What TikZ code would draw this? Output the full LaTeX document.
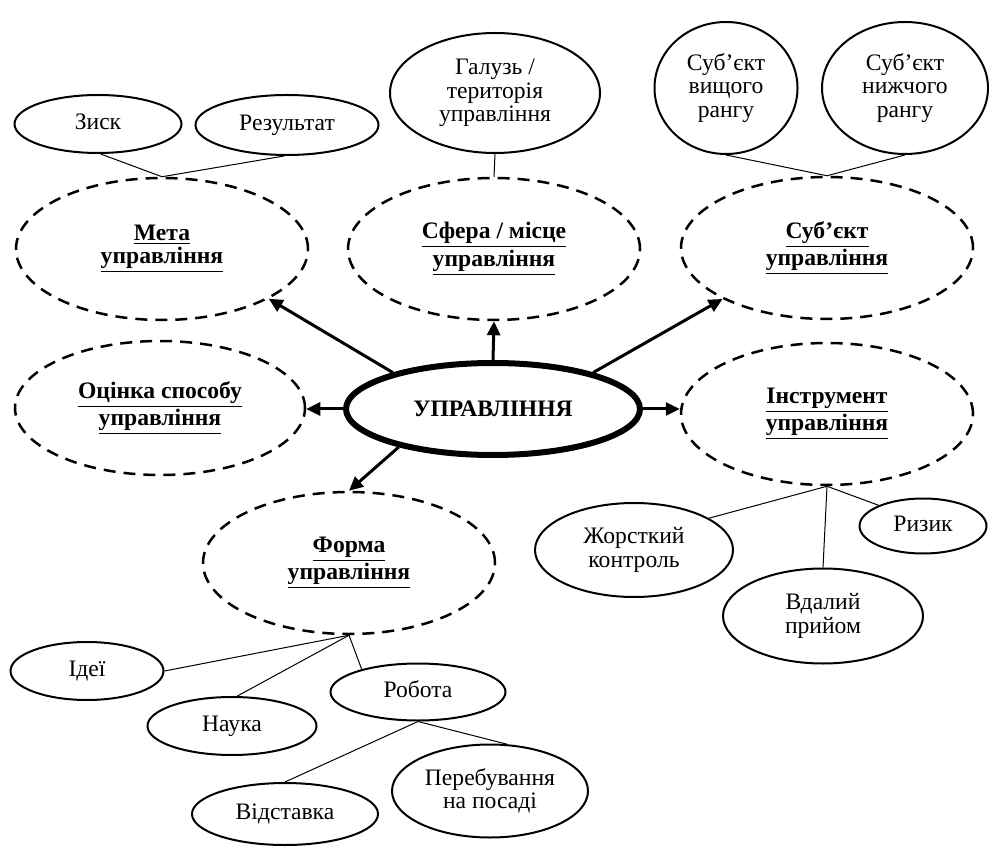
\documentclass[tikz,border=0pt]{standalone}
\usepackage{fontspec}
\setmainfont{Liberation Serif}
\usepackage{tikz}
\usetikzlibrary{arrows.meta,shapes.geometric}

\begin{document}
\begin{tikzpicture}[x=0.5pt,y=-0.5pt,
    every node/.style={font=\fontsize{11.8}{11.8}\selectfont,align=center,inner sep=0pt},
    part/.style={ellipse,draw,line width=1.25pt,dash pattern=on 6pt off 4pt,
        minimum width=146pt,minimum height=71pt,font=\fontsize{11.8}{11.8}\selectfont\bfseries},
    leaf/.style={ellipse,draw,line width=1pt},
    oneline/.style={leaf,text height=1.6ex,text depth=0.45ex},
    link/.style={line width=0.5pt},
    arr/.style={line width=1.5pt,-{Triangle[length=7pt,width=6.5pt]}}]
\useasboundingbox (0,0) rectangle (989,849);

\node (upr) at (493,409) [ellipse,draw,line width=3pt,minimum width=147pt,minimum height=46pt,
    font=\fontsize{11.8}{11.8}\selectfont\bfseries] {УПРАВЛІННЯ};

\node (meta) at (162,249) [part] {\underline{Мета}\\\underline{управління}};
\node (sfera) at (494,249) [part] {\underline{Сфера / місце}\\\underline{управління}};
\node (subiekt) at (827,248) [part] {\underline{Суб’єкт}\\\underline{управління}};
\node (ocinka) at (160,408) [part,minimum width=145pt,minimum height=67pt] {\underline{Оцінка способу}\\\underline{управління}};
\node (instr) at (827,414) [part] {\underline{Інструмент}\\\underline{управління}};
\node (forma) at (349,563) [part] {\underline{Форма}\\\underline{управління}};

\node (zysk) at (98,124) [oneline,minimum width=83.5pt,minimum height=29pt] {Зиск};
\node (rezult) at (287,125) [oneline,minimum width=91.5pt,minimum height=30pt] {Результат};
\node (haluz) at (495,93) [leaf,minimum width=105pt,minimum height=60pt] {Галузь /\\територія\\управління};
\node (vyshch) at (726,88) [leaf,minimum width=71.5pt,minimum height=66pt] {Суб’єкт\\вищого\\рангу};
\node (nyzhch) at (905,88) [leaf,minimum width=83pt,minimum height=66pt] {Суб’єкт\\нижчого\\рангу};
\node (zhorst) at (634,550) [leaf,minimum width=99pt,minimum height=47pt] {Жорсткий\\контроль};
\node (ryzyk) at (923,526) [oneline,minimum width=63.5pt,minimum height=27.5pt] {Ризик};
\node (vdalyi) at (823,616) [leaf,minimum width=100pt,minimum height=47.5pt] {Вдалий\\прийом};
\node (idei) at (87,671) [oneline,minimum width=76.5pt,minimum height=29pt] {Ідеї};
\node (nauka) at (232,726) [oneline,minimum width=84.5pt,minimum height=29pt] {Наука};
\node (robota) at (418,692) [oneline,minimum width=87.5pt,minimum height=28.5pt] {Робота};
\node (vidst) at (285,814) [oneline,minimum width=93pt,minimum height=31pt] {Відставка};
\node (perebuv) at (490,791) [leaf,minimum width=98pt,minimum height=46.5pt] {Перебування\\на посаді};

\draw[arr] (upr.160) -- (meta.-25);
\draw[arr] (upr.north) -- (sfera.south);
\draw[arr] (upr.20) -- (subiekt.206);
\draw[arr] (upr.west) -- (ocinka.east |- upr.west);
\draw[arr] (upr.east) -- (instr.west |- upr.east);
\draw[arr] (upr.202) -- (forma.north);

\draw[link] (zysk.-85) -- (meta.north) -- (rezult.-95);
\draw[link] (haluz.south) -- (sfera.north);
\draw[link] (vyshch.south) -- (subiekt.north) -- (nyzhch.south);
\draw[link] (instr.south) -- (zhorst.23);
\draw[link] (instr.south) -- (vdalyi.north);
\draw[link] (instr.south) -- (ryzyk.155);
\draw[link] (forma.south) -- (idei.east);
\draw[link] (forma.south) -- (nauka.80);
\draw[link] (forma.south) -- (robota.158);
\draw[link] (robota.south) -- (vidst.north);
\draw[link] (robota.south) -- (perebuv.70);
\end{tikzpicture}
\end{document}
